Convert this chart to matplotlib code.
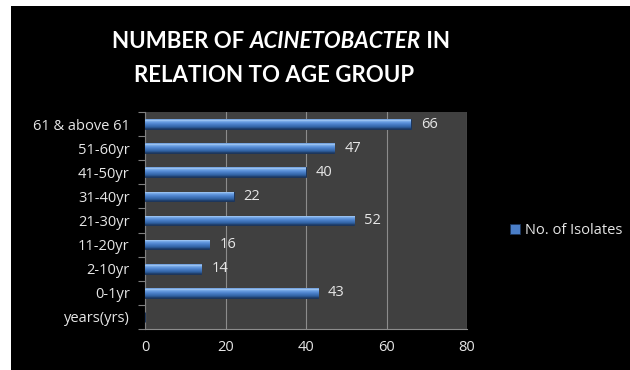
import numpy as np
import matplotlib
matplotlib.use("Agg")
import matplotlib.pyplot as plt
from matplotlib.colors import LinearSegmentedColormap
from matplotlib.patches import Rectangle

# data (bottom to top)
age_groups = ["years(yrs)", "0-1yr", "2-10yr", "11-20yr", "21-30yr",
              "31-40yr", "41-50yr", "51-60yr", "61 & above 61"]
isolates = [np.nan, 43, 14, 16, 52, 22, 40, 47, 66]
series_name = "No. of Isolates"
x_ticks = [0, 20, 40, 60, 80]

txt_col = "#e6e6e6"
fs = 10.5
small_font = ["Open Sans", "DejaVu Sans"]
plt.rcParams["font.family"] = small_font

fig = plt.figure(figsize=(6.3, 3.7), dpi=100, facecolor="black")
# white strip on left/top like the original screenshot
fig.patches.append(Rectangle((0, 0), 11 / 630, 1, transform=fig.transFigure,
                             facecolor="white", edgecolor="none", zorder=-9))
fig.patches.append(Rectangle((0, 1 - 6 / 370), 1, 6 / 370, transform=fig.transFigure,
                             facecolor="white", edgecolor="none", zorder=-9))

ax = fig.add_axes([145 / 630, 41 / 370, 322 / 630, 217 / 370])
ax.set_facecolor("#404040")

ypos = np.arange(len(age_groups))
vals = np.array(isolates, dtype=float)
bars = ax.barh(ypos, np.nan_to_num(vals), height=0.4, color="#4a7ec8",
               edgecolor="#1c355a", linewidth=0.7, zorder=3)

cmap = LinearSegmentedColormap.from_list("bar3d", [
    (0.0, "#1b3760"), (0.18, "#2f5f9f"), (0.5, "#4c82cc"),
    (0.75, "#6fa3e6"), (0.88, "#a8cdf6"), (1.0, "#5c8fd2")])
grad = np.linspace(0, 1, 64).reshape(-1, 1)
for p in bars:
    if p.get_width() <= 0:
        continue
    im = ax.imshow(grad, cmap=cmap, aspect="auto", origin="lower",
                   extent=(p.get_x(), p.get_x() + p.get_width(),
                           p.get_y(), p.get_y() + p.get_height()), zorder=4)
    im.set_clip_path(p)

for y, v in zip(ypos, vals):
    if np.isnan(v):
        continue
    ax.annotate(f"{int(v)}", (v, y), xytext=(10, 0), textcoords="offset pixels",
                va="center", ha="left", color=txt_col, fontsize=fs)

ax.set_xlim(0, 80)
ax.set_ylim(-0.5, len(age_groups) - 0.5)
ax.set_xticks(x_ticks)
ax.set_xticklabels([str(t) for t in x_ticks])
ax.set_yticks(ypos)
ax.set_yticklabels(age_groups)
ax.set_yticks(np.arange(-0.5, len(age_groups)), minor=True)
ax.tick_params(axis="y", which="major", length=0, pad=11, colors=txt_col, labelsize=fs)
ax.tick_params(axis="y", which="minor", length=5, color="#808080", width=0.8)
ax.tick_params(axis="x", length=0, pad=8, colors=txt_col, labelsize=fs)
ax.grid(axis="x", color="#8c8c8c", linewidth=0.8, zorder=1)
ax.set_axisbelow(True)
for s in ["top", "right"]:
    ax.spines[s].set_visible(False)
ax.spines["left"].set_color("#808080")
ax.spines["bottom"].set_color("#8c8c8c")

# legend
h = Rectangle((0, 0), 1, 1, facecolor="#4a7ec8", edgecolor="#1c355a", linewidth=0.6)
leg = fig.legend([h], [series_name], loc="center left",
                 bbox_to_anchor=(497 / 630, 1 - 231 / 370), frameon=False,
                 handlelength=0.7, handleheight=0.7, handletextpad=0.3,
                 fontsize=fs, labelcolor=txt_col)

# title with italic genus name
tkw = dict(color="white", fontsize=16, fontweight="bold", va="center",
           family=["Lato", "DejaVu Sans"])
y1 = 1 - 42 / 370
t1 = fig.text(0.1, y1, "NUMBER OF ", ha="left", **tkw)
t2 = fig.text(0, 0, "ACINETOBACTER", style="italic", ha="left", **tkw)
t3 = fig.text(0, 0, " IN", ha="left", **tkw)
fig.canvas.draw()
r = fig.canvas.get_renderer()
w1 = t1.get_window_extent(r).width
w2 = t2.get_window_extent(r).width
w3 = t3.get_window_extent(r).width
cx = 281
x0 = cx - (w1 + w2 + w3) / 2
t1.set_position((x0 / 630, y1))
t2.set_position(((x0 + w1) / 630, y1))
t3.set_position(((x0 + w1 + w2) / 630, y1))
fig.text(274 / 630, 1 - 75 / 370, "RELATION TO AGE GROUP", ha="center", **tkw)

fig.savefig("out.png", dpi=100, facecolor=fig.get_facecolor())
